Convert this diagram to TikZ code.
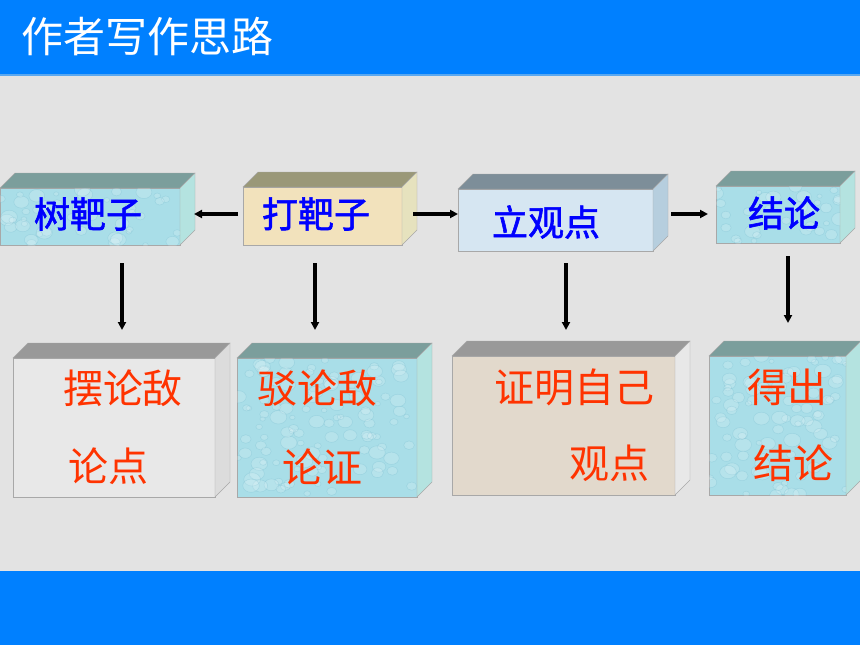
\documentclass[tikz,border=0pt]{standalone}
\usepackage{fontspec}
\newfontfamily\cjk{Noto Sans CJK SC}
\newfontfamily\cjkm[FakeBold=1.6]{Noto Sans CJK SC}
\usetikzlibrary{arrows.meta}
\definecolor{bgc}{HTML}{E3E3E3}
\definecolor{hdr}{HTML}{0080FF}
\definecolor{hdrline}{HTML}{5AA8F0}
\definecolor{cyF}{HTML}{A9DEE8}
\definecolor{cyT}{HTML}{7B9E9C}
\definecolor{cyS}{HTML}{B4E3E0}
\definecolor{cyD}{HTML}{6FB8CC}
\definecolor{paF}{HTML}{F2E2BC}
\definecolor{paT}{HTML}{9A9878}
\definecolor{paS}{HTML}{E6E2BE}
\definecolor{lbF}{HTML}{D6E6F2}
\definecolor{lbT}{HTML}{7D8E99}
\definecolor{lbS}{HTML}{B6CEDE}
\definecolor{grF}{HTML}{E8E8E8}
\definecolor{grT}{HTML}{999999}
\definecolor{grS}{HTML}{DCDCDC}
\definecolor{beF}{HTML}{E2D9CC}
\definecolor{beT}{HTML}{999999}
\definecolor{beS}{HTML}{E8E8E8}
\definecolor{lblblue}{HTML}{0000FF}
\definecolor{lblred}{HTML}{FF3300}
\definecolor{edge}{HTML}{A8A8A8}
\tikzset{
  face/.style={draw=edge, line width=0.6pt, inner sep=0pt, outer sep=0pt, rectangle},
  toplbl/.style={text=lblblue, font=\cjkm\fontsize{36}{36}\selectfont, inner sep=0pt},
  botlbl/.style={text=lblred, font=\cjk\fontsize{40}{40}\selectfont, inner sep=0pt},
  arr/.style={line width=3.4pt, -{Triangle[length=8pt,width=8pt]}},
  drop/.style={fill=white, fill opacity=0.16, draw=cyD, draw opacity=0.3, line width=0.5pt},
}
\newcommand\mycube[8]{%
  \node[face, fill=#6, minimum width={(#4-#2)*1pt}, minimum height={(#5-#3)*1pt}]
    (#1) at ({(#2+#4)/2},{(#3+#5)/2}) {};
  \filldraw[fill=#7, draw=edge, line width=0.4pt] (#1.north west) -- ++(15pt,15pt)
     -- ([shift={(15pt,15pt)}]#1.north east) -- (#1.north east) -- cycle;
  \filldraw[fill=#8, draw=edge, line width=0.4pt] (#1.north east) -- ++(15pt,15pt)
     -- ([shift={(15pt,15pt)}]#1.south east) -- (#1.south east) -- cycle;
}
\newcommand\mydrops[5]{% x1 y1 x2 y2 count
  \begin{scope}
    \clip (#1,#2) rectangle (#3,#4);
    \foreach \i in {1,...,#5}{
      \pgfmathsetmacro\dx{#1+rnd*(#3-#1)}
      \pgfmathsetmacro\dy{#2+rnd*(#4-#2)}
      \pgfmathsetmacro\dr{2.5+rnd*6}
      \path[drop] (\dx,\dy) ellipse [x radius=\dr pt, y radius=0.8*\dr pt];
    }
  \end{scope}
}
\begin{document}
\begin{tikzpicture}[x=1pt,y=-1pt]
\pgfmathsetseed{7}
\useasboundingbox (0,0) rectangle (860,645);
\fill[bgc] (0,0) rectangle (860,645);
% header and footer
\fill[hdr] (0,0) rectangle (860,74);
\fill[hdrline] (0,74) rectangle (860,76);
\fill[hdr] (0,571) rectangle (860,645);
\node[text=white, font=\cjk\fontsize{42}{42}\selectfont, anchor=west, inner sep=0pt] (title) at (21,37) {作者写作思路};
% top row
\mycube{b1}{0}{188}{180}{245}{cyF}{cyT}{cyS}
\mydrops{0}{188}{180}{245}{45}
\mycube{b2}{243}{187}{402}{245}{paF}{paT}{paS}
\mycube{b3}{458}{189}{653}{251}{lbF}{lbT}{lbS}
\mycube{b4}{716}{186}{840}{243}{cyF}{cyT}{cyS}
\mydrops{716}{186}{840}{243}{32}
% bottom row
\mycube{b5}{13}{358}{215}{497}{grF}{grT}{grS}
\mycube{b6}{237}{358}{417}{497}{cyF}{cyT}{cyS}
\mydrops{237}{358}{417}{497}{110}
\mycube{b7}{452}{356}{675}{495}{beF}{beT}{beS}
\mycube{b8}{709}{356}{846}{495}{cyF}{cyT}{cyS}
\mydrops{709}{356}{846}{495}{85}
% labels
\node[toplbl] (t1) at (88,214) {树靶子};
\node[toplbl] (t2) at (316,214) {打靶子};
\node[toplbl] (t3) at (546,222) {立观点};
\node[toplbl] (t4) at (784,213) {结论};
\node[botlbl] (l5a) at (123,388) {摆论敌};
\node[botlbl] (l5b) at (108,466) {论点};
\node[botlbl] (l6a) at (317,388) {驳论敌};
\node[botlbl] (l6b) at (322,467) {论证};
\node[botlbl] (l7a) at (574,387) {证明自己};
\node[botlbl] (l7b) at (609,463) {观点};
\node[botlbl] (l8a) at (787,387) {得出};
\node[botlbl] (l8b) at (793,463) {结论};
% horizontal arrows
\coordinate (h) at (0,214);
\draw[arr] ([xshift=-5pt]b2.west |- h) -- ([xshift=14pt]b1.east |- h);
\draw[arr] ([xshift=11pt]b2.east |- h) -- (b3.west |- h);
\draw[arr] ([xshift=18pt]b3.east |- h) -- ([xshift=-8pt]b4.west |- h);
% vertical arrows
\coordinate (v1s) at (122,263); \coordinate (v1e) at (122,330);
\coordinate (v2s) at (315,263); \coordinate (v2e) at (315,330);
\coordinate (v3s) at (566,263); \coordinate (v3e) at (566,330);
\coordinate (v4s) at (788,256); \coordinate (v4e) at (788,323);
\draw[arr] (v1s) -- (v1e);
\draw[arr] (v2s) -- (v2e);
\draw[arr] (v3s) -- (v3e);
\draw[arr] (v4s) -- (v4e);
\end{tikzpicture}
\end{document}
